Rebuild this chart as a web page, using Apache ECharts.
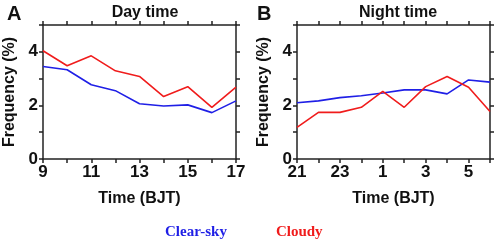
<!DOCTYPE html>
<html>
<head>
<meta charset="utf-8">
<script src="https://cdn.jsdelivr.net/npm/echarts@6/dist/echarts.min.js"></script>
<style>
  html, body { margin: 0; padding: 0; background: #fff; }
  #chart { width: 498px; height: 242px; }
</style>
</head>
<body>
<div id="chart"></div>
<script>
// day time hours 9..17
const dayHours = [9, 10, 11, 12, 13, 14, 15, 16, 17]
const dayClear = [3.45, 3.33, 2.77, 2.55, 2.06, 1.98, 2.02, 1.73, 2.17]
const dayCloudy = [4.04, 3.48, 3.85, 3.29, 3.08, 2.33, 2.70, 1.93, 2.68]
// night time hours 21..6 (past midnight as 24+)
const nightHours = [21, 22, 23, 24, 25, 26, 27, 28, 29, 30]
const nightClear = [2.10, 2.17, 2.29, 2.36, 2.46, 2.58, 2.58, 2.43, 2.95, 2.87]
const nightCloudy = [1.18, 1.74, 1.74, 1.93, 2.52, 1.93, 2.70, 3.08, 2.68, 1.77]
const yTicks = [0, 2, 4]

const blue = '#1f1fe6'
const red = '#f01c1c'
const font = 'Liberation Sans, Arial, sans-serif'

const chart = echarts.init(document.getElementById('chart'))

function pairs(xs, ys) {
  return xs.map((x, i) => [x, ys[i]])
}

const lineStyle = { color: '#222', width: 1.5 }

function xAxes(gridIndex, min, max, labelFn) {
  return [
    {
      gridIndex, type: 'value', min, max, interval: 1, position: 'bottom',
      axisLine: { onZero: false, lineStyle },
      axisTick: { length: 4, lineStyle },
      splitLine: { show: false },
      axisLabel: {
        margin: 5, color: '#111', fontFamily: font, fontWeight: 'bold', fontSize: 17,
        formatter: labelFn
      },
      name: 'Time (BJT)', nameLocation: 'middle', nameGap: 32,
      nameTextStyle: { color: '#111', fontFamily: font, fontWeight: 'bold', fontSize: 16 }
    },
    {
      gridIndex, type: 'value', min, max, interval: 1, position: 'top',
      axisLine: { onZero: false, lineStyle },
      axisTick: { length: 4, lineStyle },
      axisLabel: { show: false },
      splitLine: { show: false }
    }
  ]
}

function yAxes(gridIndex) {
  return [
    {
      gridIndex, type: 'value', min: 0, max: 5, interval: 1, position: 'left',
      axisLine: { show: true, onZero: false, lineStyle },
      axisTick: { show: true, length: 4, lineStyle },
      splitLine: { show: false },
      axisLabel: {
        margin: 5, color: '#111', fontFamily: font, fontWeight: 'bold', fontSize: 17,
        formatter: v => (yTicks.includes(v) ? String(v) : '')
      },
      name: 'Frequency (%)', nameLocation: 'middle', nameGap: 25, nameRotate: 90,
      nameTextStyle: { color: '#111', fontFamily: font, fontWeight: 'bold', fontSize: 16 }
    },
    {
      gridIndex, type: 'value', min: 0, max: 5, interval: 1, position: 'right',
      axisLine: { show: true, onZero: false, lineStyle },
      axisTick: { show: true, length: 4, lineStyle },
      axisLabel: { show: false },
      splitLine: { show: false }
    }
  ]
}

function line(name, color, xi, yi, data) {
  return {
    name, type: 'line', xAxisIndex: xi, yAxisIndex: yi, data,
    symbol: 'none', lineStyle: { color, width: 1.6 }, itemStyle: { color }
  }
}

chart.setOption({
  animation: false,
  title: [
    { text: 'A', left: 2, top: -1, textStyle: { fontFamily: font, fontWeight: 'bold', fontSize: 20, color: '#111' } },
    { text: 'Day time', left: 140, top: 0, textAlign: 'center', textStyle: { fontFamily: font, fontWeight: 'bold', fontSize: 16, color: '#111' } },
    { text: 'B', left: 252, top: -1, textStyle: { fontFamily: font, fontWeight: 'bold', fontSize: 20, color: '#111' } },
    { text: 'Night time', left: 393, top: 0, textAlign: 'center', textStyle: { fontFamily: font, fontWeight: 'bold', fontSize: 16, color: '#111' } }
  ],
  legend: {
    top: 220, left: 155, icon: 'none', itemWidth: 0, itemGap: 44,
    textStyle: { fontFamily: 'Liberation Serif, Times New Roman, serif', fontWeight: 'bold', fontSize: 15 },
    data: [
      { name: 'Clear-sky', textStyle: { color: blue } },
      { name: 'Cloudy', textStyle: { color: red } }
    ]
  },
  grid: [
    { left: 43, right: 262, top: 25, bottom: 83 },
    { left: 297, right: 8, top: 25, bottom: 83 }
  ],
  xAxis: [
    ...xAxes(0, 9, 17, v => ((v - 9) % 2 === 0 ? String(v) : '')),
    ...xAxes(1, 21, 30, v => ((v - 21) % 2 === 0 ? String(v % 24) : ''))
  ],
  yAxis: [...yAxes(0), ...yAxes(1)],
  series: [
    line('Clear-sky', blue, 0, 0, pairs(dayHours, dayClear)),
    line('Cloudy', red, 0, 0, pairs(dayHours, dayCloudy)),
    line('Clear-sky', blue, 2, 2, pairs(nightHours, nightClear)),
    line('Cloudy', red, 2, 2, pairs(nightHours, nightCloudy))
  ]
})
</script>
</body>
</html>
